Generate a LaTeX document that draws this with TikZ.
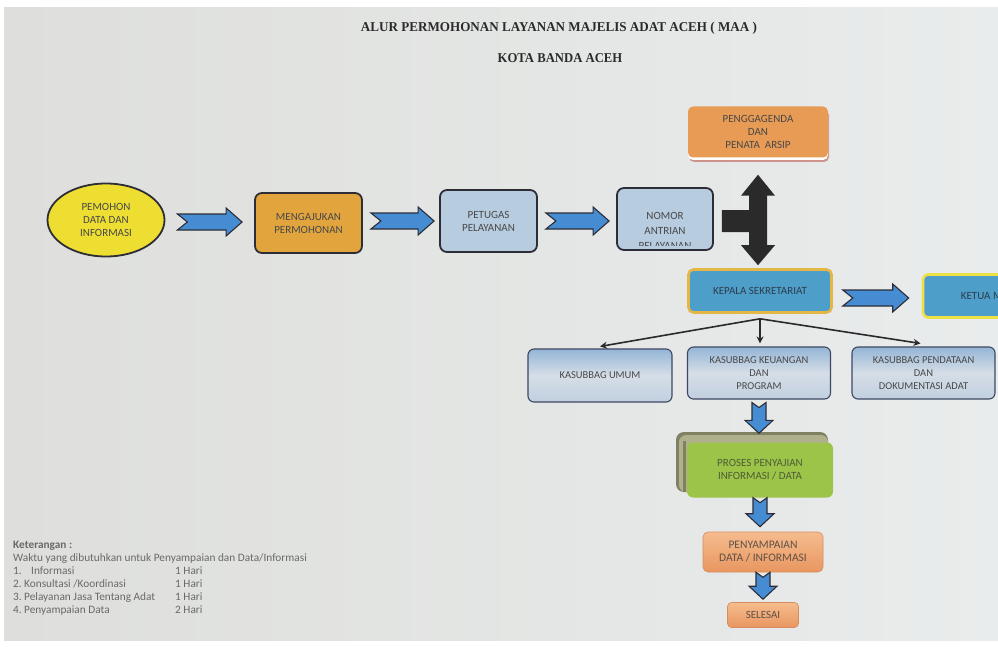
\documentclass[tikz,border=0pt]{standalone}
\usepackage{fontspec}
\setmainfont{Carlito}
\newfontfamily\titlefont{Liberation Serif}
\usetikzlibrary{calc,arrows.meta,shapes.geometric}
\definecolor{paperL}{RGB}{222,223,220}
\definecolor{paperR}{RGB}{233,236,236}
\definecolor{blueA}{RGB}{70,140,210}
\definecolor{outA}{RGB}{45,45,55}
\definecolor{yel}{RGB}{238,222,50}
\definecolor{oraA}{RGB}{226,165,62}
\definecolor{oraB}{RGB}{232,155,85}
\definecolor{lblue}{RGB}{184,204,224}
\definecolor{kepF}{RGB}{78,158,202}
\definecolor{kepB}{RGB}{228,182,70}
\definecolor{ketB}{RGB}{240,224,72}
\definecolor{kasT}{RGB}{148,181,214}
\definecolor{kasM}{RGB}{214,222,231}
\definecolor{kasBt}{RGB}{192,207,223}
\definecolor{kasD}{RGB}{62,72,98}
\definecolor{grn}{RGB}{156,196,72}
\definecolor{shd}{RGB}{176,176,140}
\definecolor{shdD}{RGB}{128,128,98}
\definecolor{pnyT}{RGB}{246,188,142}
\definecolor{pnyB}{RGB}{232,150,96}
\definecolor{txt}{RGB}{72,72,72}
\definecolor{ket}{RGB}{105,105,105}
\definecolor{dark}{RGB}{42,42,42}
\tikzset{
  box/.style={rectangle, rounded corners=7pt, align=center, text=txt,
    font=\fontsize{11}{13}\selectfont, inner sep=2pt},
  darkbox/.style={box, draw=outA, line width=1.8pt},
  kas/.style={box, draw=kasD, line width=1.1pt, rounded corners=6pt,
    top color=kasT, bottom color=kasBt, middle color=kasM,
    font=\fontsize{10.5}{13}\selectfont, minimum width=143pt, minimum height=52pt},
  barrow/.style={fill=blueA, draw=outA, line width=1.1pt, line join=miter},
  conn/.style={draw=dark, line width=1.6pt, -{Stealth[length=7pt,width=7pt]}},
  kettext/.style={anchor=base west, text=ket, font=\fontsize{11.3}{12}\selectfont, inner sep=0pt},
}
\newcommand\harr[2]{\filldraw[barrow] let \p1=(#1), \p2=(#2) in
  (\x1,\y1+8) -- (\x2-16,\y1+8) -- (\x2-16,\y1+14) -- (\x2,\y1) --
  (\x2-16,\y1-14) -- (\x2-16,\y1-8) -- (\x1,\y1-8) -- (\x1+10,\y1) -- cycle;}
\newcommand\varr[2]{\filldraw[barrow] let \p1=(#1), \p2=(#2) in
  (\x1-7,\y1) -- (\x1,\y1-5) -- (\x1+7,\y1) -- (\x1+7,\y2+13) -- (\x1+14,\y2+13) --
  (\x1,\y2) -- (\x1-14,\y2+13) -- (\x1-7,\y2+13) -- cycle;}
\begin{document}
\begin{tikzpicture}[x=1pt,y=-1pt]
\clip (0,0) rectangle (998,647);
\fill[white] (0,0) rectangle (998,647);
\shade[left color=paperL, right color=paperR] (4,8) rectangle (998,640);

% titles
\node[font=\titlefont\bfseries\fontsize{13.5}{16}\selectfont, text=dark] (title) at (559,28)
  {\scalebox{0.97}[1]{ALUR PERMOHONAN LAYANAN MAJELIS ADAT ACEH ( MAA )}};
\node[font=\titlefont\bfseries\fontsize{13.5}{16}\selectfont, text=dark] (sub) at (560,58)
  {\scalebox{0.94}[1]{KOTA BANDA ACEH}};

% main row
\node[ellipse, draw=outA, line width=1.8pt, fill=yel, minimum width=117pt, minimum height=73pt,
  align=center, text=txt, font=\fontsize{11}{13}\selectfont, inner sep=0pt] (pem) at (106,220)
  {PEMOHON\\DATA DAN\\INFORMASI};
\node[darkbox, fill=oraA, minimum width=107pt, minimum height=60pt] (meng) at (308.5,223)
  {MENGAJUKAN\\PERMOHONAN};
\node[darkbox, fill=lblue, minimum width=97pt, minimum height=62pt] (pet) at (488.5,221)
  {PETUGAS\\PELAYANAN};
\node[darkbox, fill=lblue, minimum width=96pt, minimum height=62pt] (nom) at (665,219) {};
\begin{scope}
  \clip (620,191) rectangle (710,245.5);
  \node[box, inner sep=0pt, font=\fontsize{11}{15}\selectfont] (nomtext) at (665,230.5) {NOMOR\\ANTRIAN\\PELAYANAN};
\end{scope}

\harr{$(pem.east)+(12,2)$}{$(meng.west)+(-12,0)$}
\harr{$(meng.east)+(8,-2)$}{$(pet.west)+(-5,0)$}
\harr{$(pet.east)+(8,0)$}{$(nom.west)+(-7,0)$}

% penggagenda
\fill[rounded corners=5pt, fill={rgb,255:red,205;green,148;blue,140}] (689,110) rectangle (829,162);
\fill[rounded corners=5pt, white] (688,108) rectangle (828,160);
\node[box, fill=oraB, rounded corners=5pt, minimum width=140pt, minimum height=51pt] (pen) at (758,132)
  {PENGGAGENDA\\DAN\\PENATA\ \ ARSIP};

% kepala
\node[box, fill=kepF, draw=kepB, line width=2.6pt, rounded corners=5pt, minimum width=143pt,
  minimum height=43pt, text={rgb,255:red,45;green,60;blue,75}, font=\fontsize{11}{12}\selectfont] (kep) at (760,291)
  {KEPALA SEKRETARIAT};
\node[box, fill=kepF, draw=ketB, line width=2.6pt, rounded corners=5pt, minimum width=130pt,
  minimum height=43pt, text={rgb,255:red,45;green,60;blue,75}, font=\fontsize{11}{12}\selectfont] (ketua) at (988,296)
  {KETUA MAA};

% T double arrow
\fill[dark] let \p1=($(pen.south)+(0,17)$), \p2=($(kep.north)+(0,-3)$), \p3=($(nom.east)+(8,2)$) in
  (\x1,\y1) -- (\x1+17,\y1-21) -- (\x1+9,\y1-21) -- (\x1+9,\y2+20) -- (\x1+17,\y2+20) --
  (\x1,\y2) -- (\x1-17,\y2+20) -- (\x1-9,\y2+20) -- (\x1-9,\y3-11) -- (\x3,\y3-11) --
  (\x3,\y3+11) -- (\x1-9,\y3+11) -- (\x1-9,\y1-21) -- (\x1-17,\y1-21) -- cycle;

\harr{$(kep.east)+(10,7)$}{$(ketua.west)+(-13,2)$}

% kasubbag
\node[kas, minimum width=144pt, minimum height=53pt] (kum) at (600,375.5) {KASUBBAG UMUM};
\node[kas] (kke) at (759,373) {KASUBBAG KEUANGAN\\DAN\\PROGRAM};
\node[kas] (kpd) at (923.5,373) {KASUBBAG PENDATAAN\\DAN\\DOKUMENTASI ADAT};
\coordinate (split) at ($(kep.south)+(0,5)$);
\draw[conn] (split) -- ($(kum.north)+(0,-2)$);
\draw[conn] (split) -- ($(kke.north)+(1,-3)$);
\draw[conn] (split) -- ($(kpd.north)+(-3,-3)$);

% proses
\fill[rounded corners=8pt, fill=shdD] (676,432) rectangle (828,492);
\fill[rounded corners=7pt, fill=shd] (679,435) rectangle (828,492);
\fill[shdD] (683,441) rectangle (685.5,492);
\node[box, fill=grn, rounded corners=6pt, minimum width=146pt, minimum height=55pt,
  text={rgb,255:red,78;green,92;blue,55}] (pro) at (760,470)
  {PROSES PENYAJIAN\\INFORMASI / DATA};
\varr{$(kke.south)+(0,3)$}{$(pro.north)+(0,-9)$}

\node[box, top color=pnyT, bottom color=pnyB, draw={rgb,255:red,215;green,140;blue,95}, line width=0.6pt,
  rounded corners=5pt, minimum width=120pt, minimum height=40pt,
  text={rgb,255:red,95;green,80;blue,70}, font=\fontsize{11.5}{13}\selectfont] (pny) at (763,552)
  {PENYAMPAIAN\\DATA / INFORMASI};
\varr{$(pro.south)+(0,0)$}{$(pny.north)+(0,-5)$}

\node[box, top color=pnyT, bottom color=pnyB, draw={rgb,255:red,215;green,140;blue,95}, line width=0.6pt,
  rounded corners=4pt, minimum width=71pt, minimum height=25pt,
  text={rgb,255:red,95;green,80;blue,70}, font=\fontsize{11}{12}\selectfont] (sel) at (763,615)
  {SELESAI};
\varr{$(pny.south)+(0,0)$}{$(sel.north)+(0,-3)$}

% keterangan
\node[kettext, font=\bfseries\fontsize{11.3}{12}\selectfont] (k0) at (13,548.5) {Keterangan :};
\node[kettext] (k1) at (13,561.5) {Waktu yang dibutuhkan untuk Penyampaian dan Data/Informasi};
\node[kettext] (n1) at (13,574.5) {1.};
\node[kettext] (t1) at (31,574.5) {Informasi};
\node[kettext] (h1) at (175,574.5) {1 Hari};
\node[kettext] (n2) at (13,587.5) {2.};
\node[kettext] (t2) at (24,587.5) {Konsultasi /Koordinasi};
\node[kettext] (h2) at (175,587.5) {1 Hari};
\node[kettext] (n3) at (13,600.5) {3.};
\node[kettext] (t3) at (24,600.5) {Pelayanan Jasa Tentang Adat};
\node[kettext] (h3) at (175,600.5) {1 Hari};
\node[kettext] (n4) at (13,613.5) {4.};
\node[kettext] (t4) at (24,613.5) {Penyampaian Data};
\node[kettext] (h4) at (175,613.5) {2 Hari};
\end{tikzpicture}
\end{document}
